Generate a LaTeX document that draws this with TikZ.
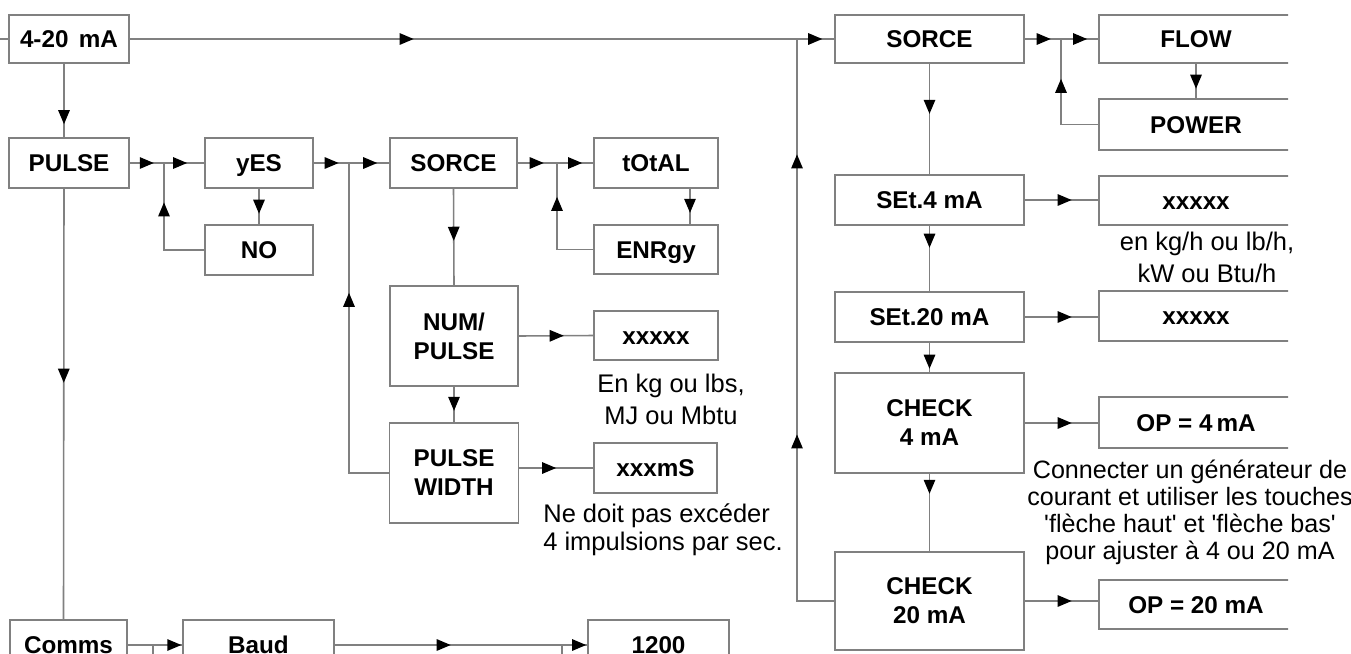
\documentclass[tikz,border=0pt]{standalone}
\usepackage{fontspec}
\setmainfont{Liberation Sans}
\usetikzlibrary{arrows.meta, decorations.markings}

\begin{document}
\begin{tikzpicture}[x=0.02cm, y=-0.02cm,
  box/.style={draw=black!50, line width=0.9pt, inner sep=0pt, minimum height=1cm,
    align=center, font=\fontsize{13.8}{16.5}\selectfont\bfseries},
  cell/.style={box, text height=9.9pt, text depth=0pt},
  conn/.style={draw=black!50, line width=0.9pt},
  arrowat/.style={postaction={decorate, decoration={markings,
    mark=at position #1 with {\arrow{Triangle[length=8pt, width=6.5pt, color=black]}}}}},
  note/.style={inner sep=0pt, align=center, font=\fontsize{14.5}{18.2}\selectfont}]

\useasboundingbox (0,0) rectangle (1351,653);
\clip (0,0) rectangle (1351,653);

% Boxes, left part
\node[cell, minimum width=2.4cm, minimum height=0.96cm] (ma) at (69,39) {4-20\hspace{0.15em} mA};
\node[cell, minimum width=2.4cm] (pulse) at (69,163) {PULSE};
\node[cell, minimum width=2.16cm] (yes) at (259,163) {yES};
\node[cell, minimum width=2.16cm] (no) at (259,250) {NO};
\node[cell, minimum width=2.54cm] (sorceA) at (453.5,163) {SORCE};
\node[cell, minimum width=2.48cm] (total) at (656,163) {tOtAL};
\node[cell, minimum width=2.48cm, minimum height=0.98cm] (enrgy) at (656,249.5) {ENRgy};
\node[box, minimum width=2.56cm, minimum height=2cm] (num) at (454,336) {NUM/\\PULSE};
\node[cell, minimum width=2.48cm, minimum height=0.98cm] (xxA) at (656,335.5) {xxxxx};
\node[box, minimum width=2.58cm, minimum height=2cm] (width) at (454,473) {PULSE\\WIDTH};
\node[cell, minimum width=2.46cm] (xxms) at (655.5,468) {xxxmS};
\node[cell, minimum width=2.34cm] (comms) at (68.5,645) {Comms};
\node[cell, minimum width=3.02cm] (baud) at (258.5,645) {Baud};
\node[cell, minimum width=2.82cm] (b1200) at (658.5,645) {1200};

% Boxes, right part
\node[cell, minimum width=3.78cm, minimum height=0.96cm] (sorceB) at (929.5,39) {SORCE};
\node[cell, minimum width=3.78cm] (set4) at (929.5,200) {SEt.4 mA};
\node[cell, minimum width=3.78cm] (set20) at (929.5,317) {SEt.20 mA};
\node[box, minimum width=3.78cm, minimum height=2cm] (chk4) at (929.5,423) {CHECK\\4 mA};
\node[box, minimum width=3.78cm, minimum height=1.96cm] (chk20) at (929.5,601) {CHECK\\20 mA};

% Cut-off column
\begin{scope}
\clip (0,0) rectangle (1288,653);
\node[cell, minimum width=3.88cm, minimum height=0.96cm] (flow) at (1196,39) {FLOW};
\node[cell, minimum width=3.88cm, minimum height=1.02cm] (power) at (1196,124.5) {POWER};
\node[cell, minimum width=3.88cm, minimum height=0.98cm] (xxB) at (1196,200.5) {xxxxx};
\node[cell, minimum width=3.88cm] (xxC) at (1196,316) {xxxxx};
\node[cell, minimum width=3.88cm, minimum height=1.02cm] (op4) at (1196,422.5) {OP = 4\,mA};
\node[cell, minimum width=3.88cm, minimum height=0.98cm] (op20) at (1196,604.5) {OP = 20 mA};
\end{scope}

% Junctions
\coordinate (stub) at (0,39);
\coordinate (jtop) at (797,39);
\coordinate (j1) at (164,163);
\coordinate (j2) at (349,163);
\coordinate (j3) at (557,163);
\coordinate (j4) at (153,645);
\coordinate (j4b) at (153,680);
\coordinate (j5) at (562,645);
\coordinate (j5b) at (562,680);
\coordinate (j6) at (1061,39);

% Top line and 4-20 mA branch
\draw[conn] (stub) -- (ma.west);
\draw[conn, arrowat=161.6pt, arrowat=-6.8pt] (ma.east) -- (jtop) -- (sorceB.west);
\draw[conn, arrowat=-7.4pt] ([xshift=-0.1cm]ma.south) -- ([xshift=-0.1cm]pulse.north);
\draw[conn, arrowat=110.4pt] ([xshift=-0.1cm]pulse.south) -- ([xshift=-0.1cm]comms.north);

% Pulse branch
\draw[conn, arrowat=13.7pt, arrowat=-9.7pt] (pulse.east) -- (j1) -- (yes.west);
\draw[conn, arrowat=14.2pt] (yes.south) -- (no.north);
\draw[conn, arrowat=50pt] (no.west) -- (no.west -| j1) -- (j1);
\draw[conn, arrowat=14.2pt, arrowat=-6.8pt] (yes.east) -- (j2) -- (sorceA.west);
\draw[conn, arrowat=125.2pt] (width.west) -- (width.west -| j2) -- (j2);
\draw[conn, arrowat=14.8pt, arrowat=-6.3pt] (sorceA.east) -- (j3) -- (total.west);
\draw[conn, arrowat=13.7pt] ([xshift=0.68cm]total.south) -- ([xshift=0.68cm]enrgy.north);
\draw[conn, arrowat=50.6pt] (enrgy.west) -- (enrgy.west -| j3) -- (j3);
\draw[conn, arrowat=29.6pt] (sorceA.south) -- (num.north);
\draw[conn, arrowat=25.6pt] (num.east) -- (xxA.west);
\draw[conn, arrowat=13.7pt] (num.south) -- (width.north);
\draw[conn, arrowat=21pt] (xxms.west -| width.east) -- (xxms.west);

% Comms branch
\draw[conn, arrowat=-0.5pt] (comms.east) -- (j4) -- (baud.west);
\draw[conn] (j4) -- (j4b);
\draw[conn, arrowat=66pt, arrowat=-0.6pt] (baud.east) -- (j5) -- (b1200.west);
\draw[conn] (j5) -- (j5b);

% Analogue output branch
\draw[conn, arrowat=14.8pt, arrowat=-6.3pt] (sorceB.east) -- (j6) -- (flow.west);
\draw[conn, arrowat=14.2pt] (flow.south) -- (power.north);
\draw[conn, arrowat=47.2pt] (power.west) -- (power.west -| j6) -- (j6);
\draw[conn, arrowat=28.5pt] (sorceB.south) -- (set4.north);
\draw[conn, arrowat=26.7pt] (set4.east) -- (set4.east -| xxB.west);
\draw[conn, arrowat=12.5pt] (set4.south) -- (set20.north);
\draw[conn, arrowat=26.7pt] (set20.east) -- (set20.east -| xxC.west);
\draw[conn, arrowat=14.8pt] (set20.south) -- (chk4.north);
\draw[conn, arrowat=26.7pt] (chk4.east) -- (chk4.east -| op4.west);
\draw[conn, arrowat=11.4pt] (chk4.south) -- (chk20.north);
\draw[conn, arrowat=26.7pt] (chk20.east) -- (chk20.east -| op20.west);
\draw[conn, arrowat=116pt, arrowat=275.4pt] (chk20.west) -- (chk20.west -| jtop) -- (jtop);

% Notes
\node[note] (unitA) at (671,399) {En kg ou lbs,\\MJ ou Mbtu};
\node[note] (unitB) at (1207,257) {en kg/h ou lb/h,\\kW ou Btu/h};
\node[note, align=left, anchor=west, font=\fontsize{14.5}{15.9}\selectfont] (limit) at (543,530)
  {Ne doit pas excéder\\4 impulsions par sec.};
\node[note, font=\fontsize{14.3}{15.4}\selectfont] (calib) at (1190,512.5)
  {Connecter un générateur de\\courant et utiliser les touches\\\textquotesingle flèche haut\textquotesingle{} et \textquotesingle flèche bas\textquotesingle\\pour ajuster à 4 ou 20 mA};
\end{tikzpicture}
\end{document}
